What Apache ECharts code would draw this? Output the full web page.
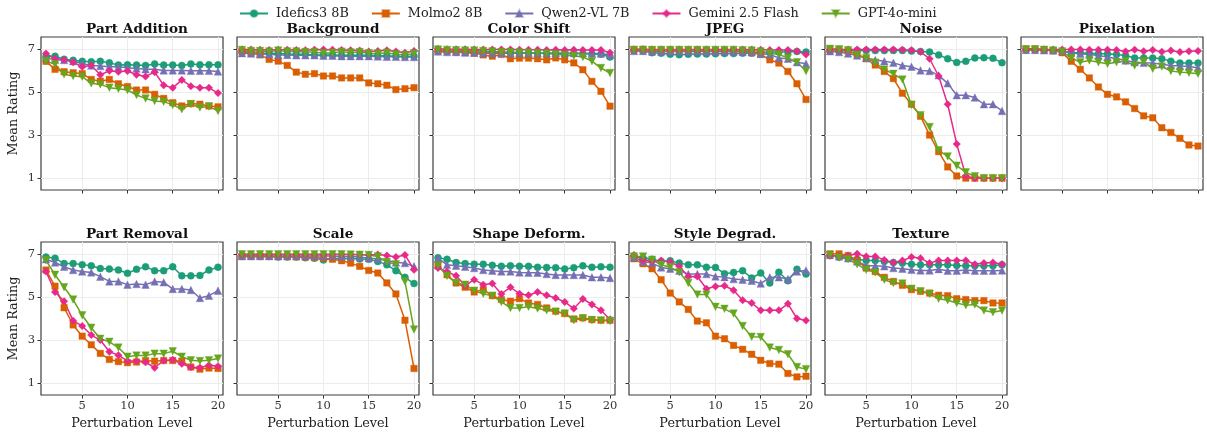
<!DOCTYPE html>
<html>
<head>
<meta charset="utf-8">
<script src="https://cdn.jsdelivr.net/npm/echarts@6/dist/echarts.min.js"></script>
<style>
  html, body { margin: 0; padding: 0; background: #fff; }
  #chart { width: 1207px; height: 436px; }
</style>
</head>
<body>
<div id="chart"></div>
<script>
const levels = [1, 2, 3, 4, 5, 6, 7, 8, 9, 10, 11, 12, 13, 14, 15, 16, 17, 18, 19, 20];
const models = ['Idefics3 8B', 'Molmo2 8B', 'Qwen2-VL 7B', 'Gemini 2.5 Flash', 'GPT-4o-mini'];
const yTicks = [1, 3, 5, 7];
const xTicks = [5, 10, 15, 20];

// each panel: [idefics, molmo, qwen, gemini, gpt]
const partAddition = [
  [6.65, 6.66, 6.52, 6.47, 6.42, 6.4, 6.42, 6.35, 6.25, 6.26, 6.25, 6.23, 6.3, 6.25, 6.25, 6.23, 6.3, 6.26, 6.26, 6.26],
  [6.42, 6.05, 5.94, 5.89, 5.85, 5.58, 5.5, 5.58, 5.38, 5.25, 5.09, 5.09, 4.89, 4.7, 4.5, 4.35, 4.46, 4.43, 4.35, 4.31],
  [6.58, 6.5, 6.48, 6.43, 6.32, 6.23, 6.2, 6.17, 6.17, 6.12, 6.09, 6.05, 6.05, 6.0, 6.0, 6.0, 5.98, 5.98, 5.98, 5.95],
  [6.78, 6.54, 6.5, 6.38, 6.17, 6.23, 5.8, 5.98, 5.94, 5.97, 5.8, 5.72, 5.92, 5.31, 5.19, 5.56, 5.27, 5.19, 5.19, 4.95],
  [6.43, 6.28, 5.82, 5.74, 5.71, 5.4, 5.35, 5.2, 5.15, 5.09, 4.86, 4.7, 4.58, 4.55, 4.4, 4.2, 4.43, 4.28, 4.32, 4.12]
];
const background = [
  [6.85, 6.82, 6.8, 6.8, 6.78, 6.76, 6.75, 6.75, 6.72, 6.72, 6.72, 6.7, 6.7, 6.7, 6.7, 6.68, 6.68, 6.66, 6.65, 6.66],
  [6.89, 6.82, 6.72, 6.51, 6.43, 6.23, 5.92, 5.82, 5.85, 5.74, 5.74, 5.65, 5.65, 5.65, 5.42, 5.38, 5.31, 5.11, 5.15, 5.2],
  [6.8, 6.78, 6.76, 6.75, 6.72, 6.72, 6.7, 6.7, 6.7, 6.68, 6.68, 6.66, 6.66, 6.66, 6.66, 6.65, 6.63, 6.63, 6.62, 6.62],
  [6.97, 6.97, 6.96, 6.95, 6.96, 6.96, 6.95, 6.94, 6.96, 6.97, 6.96, 6.95, 6.94, 6.92, 6.88, 6.9, 6.93, 6.88, 6.82, 6.9],
  [6.95, 6.9, 6.9, 6.88, 6.92, 6.88, 6.88, 6.85, 6.85, 6.8, 6.82, 6.87, 6.83, 6.85, 6.8, 6.78, 6.82, 6.75, 6.72, 6.78]
];
const colorShift = [
  [6.88, 6.88, 6.86, 6.86, 6.85, 6.85, 6.84, 6.83, 6.82, 6.82, 6.81, 6.8, 6.8, 6.8, 6.78, 6.78, 6.77, 6.76, 6.75, 6.62],
  [6.92, 6.9, 6.85, 6.82, 6.8, 6.72, 6.66, 6.74, 6.54, 6.57, 6.57, 6.54, 6.49, 6.58, 6.49, 6.35, 6.03, 5.49, 5.03, 4.34],
  [6.88, 6.85, 6.85, 6.83, 6.82, 6.8, 6.8, 6.8, 6.8, 6.8, 6.8, 6.8, 6.8, 6.8, 6.8, 6.8, 6.8, 6.78, 6.78, 6.72],
  [7.0, 6.98, 6.98, 6.98, 6.97, 6.97, 6.97, 6.97, 6.97, 6.96, 6.96, 6.96, 6.95, 6.96, 6.95, 6.96, 6.95, 6.95, 6.95, 6.82],
  [6.97, 6.95, 6.93, 6.92, 6.92, 6.9, 6.88, 6.85, 6.85, 6.83, 6.82, 6.8, 6.78, 6.75, 6.72, 6.68, 6.62, 6.43, 6.11, 5.88]
];
const jpeg = [
  [6.93, 6.9, 6.82, 6.8, 6.75, 6.73, 6.75, 6.76, 6.76, 6.77, 6.78, 6.78, 6.8, 6.8, 6.82, 6.85, 6.85, 6.87, 6.88, 6.85],
  [6.97, 6.98, 6.95, 6.95, 6.95, 6.95, 6.95, 6.95, 6.93, 6.93, 6.92, 6.9, 6.9, 6.82, 6.74, 6.49, 6.34, 5.95, 5.38, 4.65],
  [6.9, 6.9, 6.88, 6.88, 6.88, 6.88, 6.88, 6.88, 6.88, 6.88, 6.88, 6.88, 6.87, 6.85, 6.77, 6.74, 6.58, 6.54, 6.38, 6.31],
  [6.97, 6.98, 6.97, 6.97, 6.97, 6.97, 6.97, 6.97, 6.97, 6.97, 6.97, 6.97, 6.97, 6.97, 6.96, 6.95, 6.95, 6.95, 6.89, 6.74],
  [6.95, 6.95, 6.95, 6.95, 6.95, 6.95, 6.95, 6.95, 6.95, 6.95, 6.95, 6.95, 6.93, 6.92, 6.88, 6.8, 6.74, 6.58, 6.38, 5.97]
];
const noise = [
  [6.89, 6.89, 6.92, 6.92, 6.92, 6.92, 6.92, 6.92, 6.92, 6.9, 6.88, 6.85, 6.72, 6.54, 6.37, 6.42, 6.58, 6.59, 6.56, 6.36],
  [6.97, 6.97, 6.9, 6.75, 6.54, 6.25, 5.95, 5.62, 4.94, 4.43, 3.87, 3.0, 2.23, 1.52, 1.1, 1.0, 1.0, 1.0, 1.0, 1.0],
  [6.89, 6.85, 6.78, 6.69, 6.58, 6.48, 6.43, 6.35, 6.23, 6.17, 6.0, 5.97, 5.77, 5.4, 4.85, 4.85, 4.74, 4.43, 4.43, 4.12],
  [6.97, 6.97, 6.97, 6.97, 6.97, 6.97, 6.97, 6.97, 6.96, 6.94, 6.86, 6.54, 5.74, 4.43, 2.58, 1.1, 1.0, 1.0, 1.0, 1.0],
  [7.0, 6.98, 6.94, 6.72, 6.58, 6.36, 6.04, 5.84, 5.58, 4.4, 3.92, 3.37, 2.29, 2.01, 1.58, 1.27, 1.09, 1.0, 1.0, 1.0]
];
const pixelation = [
  [6.95, 6.95, 6.94, 6.92, 6.9, 6.82, 6.82, 6.8, 6.77, 6.77, 6.74, 6.69, 6.58, 6.58, 6.57, 6.54, 6.43, 6.34, 6.34, 6.34],
  [7.0, 7.0, 6.97, 6.92, 6.82, 6.42, 6.05, 5.65, 5.23, 4.89, 4.77, 4.54, 4.23, 3.89, 3.8, 3.34, 3.12, 2.85, 2.54, 2.49],
  [6.95, 6.95, 6.93, 6.92, 6.9, 6.82, 6.77, 6.74, 6.69, 6.62, 6.54, 6.46, 6.38, 6.35, 6.34, 6.28, 6.23, 6.2, 6.18, 6.12],
  [6.98, 6.98, 6.97, 6.97, 6.97, 6.97, 6.97, 6.96, 6.96, 6.96, 6.95, 6.88, 6.96, 6.89, 6.95, 6.86, 6.92, 6.85, 6.89, 6.9],
  [6.97, 6.97, 6.95, 6.92, 6.88, 6.57, 6.38, 6.46, 6.38, 6.31, 6.38, 6.42, 6.23, 6.42, 6.08, 6.18, 5.97, 5.92, 5.89, 5.85]
];
const partRemoval = [
  [6.85, 6.8, 6.55, 6.55, 6.5, 6.45, 6.32, 6.3, 6.25, 6.1, 6.28, 6.4, 6.22, 6.22, 6.4, 5.98, 5.98, 6.0, 6.25, 6.38],
  [6.25, 5.5, 4.5, 3.7, 3.18, 2.78, 2.38, 2.1, 2.0, 1.95, 1.98, 2.05, 2.02, 2.05, 2.05, 2.02, 1.75, 1.65, 1.7, 1.68],
  [6.75, 6.6, 6.4, 6.25, 6.18, 6.14, 5.94, 5.72, 5.72, 5.57, 5.6, 5.57, 5.72, 5.68, 5.37, 5.37, 5.32, 4.95, 5.06, 5.29],
  [6.18, 5.23, 4.8, 3.9, 3.65, 3.23, 3.0, 2.46, 2.3, 2.03, 2.03, 1.97, 1.72, 2.05, 2.08, 1.9, 1.74, 1.72, 1.83, 1.78],
  [6.7, 6.03, 5.45, 4.88, 4.15, 3.57, 3.06, 2.92, 2.65, 2.23, 2.28, 2.28, 2.37, 2.37, 2.48, 2.23, 2.06, 2.03, 2.06, 2.14]
];
const scale = [
  [6.88, 6.88, 6.88, 6.88, 6.85, 6.85, 6.85, 6.82, 6.8, 6.72, 6.78, 6.78, 6.78, 6.76, 6.75, 6.65, 6.49, 6.22, 5.91, 5.62],
  [6.88, 6.88, 6.88, 6.88, 6.87, 6.87, 6.86, 6.85, 6.83, 6.8, 6.75, 6.68, 6.57, 6.42, 6.23, 6.11, 5.65, 5.14, 3.92, 1.68],
  [6.9, 6.9, 6.9, 6.9, 6.9, 6.9, 6.9, 6.9, 6.9, 6.9, 6.9, 6.88, 6.88, 6.85, 6.8, 6.77, 6.7, 6.6, 6.57, 6.42],
  [6.97, 6.97, 6.97, 6.97, 6.97, 6.97, 6.97, 6.97, 6.97, 6.97, 6.97, 6.97, 6.97, 6.97, 6.95, 6.97, 6.92, 6.85, 6.95, 6.26],
  [6.98, 6.98, 6.98, 6.98, 6.98, 6.98, 6.98, 6.98, 6.98, 6.98, 6.98, 6.98, 6.97, 6.96, 6.95, 6.88, 6.62, 6.52, 5.72, 3.49]
];
const shapeDeform = [
  [6.82, 6.75, 6.6, 6.55, 6.52, 6.52, 6.47, 6.43, 6.45, 6.43, 6.42, 6.38, 6.37, 6.36, 6.3, 6.36, 6.45, 6.38, 6.4, 6.38],
  [6.45, 6.03, 5.65, 5.45, 5.23, 5.34, 5.06, 4.88, 4.8, 4.92, 4.72, 4.65, 4.49, 4.34, 4.23, 3.98, 4.03, 3.95, 3.92, 3.92],
  [6.8, 6.49, 6.45, 6.4, 6.34, 6.25, 6.22, 6.18, 6.18, 6.14, 6.12, 6.12, 6.06, 6.02, 6.02, 6.02, 6.02, 5.91, 5.91, 5.88],
  [6.34, 6.18, 5.98, 5.52, 5.8, 5.57, 5.62, 5.14, 5.45, 5.15, 5.08, 5.23, 5.08, 4.95, 4.77, 4.46, 4.91, 4.65, 4.38, 3.95],
  [6.46, 5.98, 5.65, 5.57, 5.29, 5.15, 5.06, 4.77, 4.49, 4.49, 4.55, 4.46, 4.38, 4.31, 4.23, 3.92, 4.0, 3.92, 3.91, 3.88]
];
const styleDegrad = [
  [6.88, 6.8, 6.75, 6.65, 6.68, 6.57, 6.49, 6.49, 6.38, 6.37, 6.08, 6.14, 6.22, 5.88, 6.11, 5.65, 6.15, 5.75, 6.29, 6.06],
  [6.77, 6.54, 6.31, 5.8, 5.18, 4.77, 4.42, 3.88, 3.8, 3.18, 3.06, 2.75, 2.57, 2.34, 2.06, 1.91, 1.88, 1.45, 1.29, 1.32],
  [6.83, 6.65, 6.57, 6.37, 6.31, 6.22, 6.06, 6.06, 6.06, 5.95, 5.92, 5.83, 5.8, 5.75, 5.62, 5.91, 5.91, 5.83, 6.18, 6.23],
  [6.95, 6.72, 6.65, 6.69, 6.62, 6.42, 5.95, 5.95, 5.38, 5.49, 5.52, 5.31, 4.85, 4.72, 4.38, 4.38, 4.38, 4.68, 4.0, 3.91],
  [6.88, 6.88, 6.72, 6.49, 6.38, 6.15, 5.65, 5.11, 5.11, 4.54, 4.45, 4.23, 3.65, 3.15, 3.14, 2.65, 2.54, 2.34, 1.75, 1.65]
];
const texture = [
  [6.92, 6.85, 6.83, 6.75, 6.69, 6.69, 6.65, 6.6, 6.57, 6.52, 6.49, 6.49, 6.49, 6.49, 6.46, 6.45, 6.45, 6.45, 6.45, 6.49],
  [7.0, 7.0, 6.92, 6.69, 6.34, 6.18, 5.91, 5.72, 5.54, 5.34, 5.26, 5.18, 5.08, 5.06, 4.92, 4.88, 4.83, 4.83, 4.72, 4.72],
  [6.95, 6.88, 6.8, 6.65, 6.45, 6.45, 6.42, 6.34, 6.31, 6.26, 6.23, 6.23, 6.29, 6.22, 6.22, 6.25, 6.22, 6.22, 6.22, 6.23],
  [6.92, 6.9, 6.92, 7.0, 6.88, 6.88, 6.72, 6.6, 6.69, 6.85, 6.8, 6.57, 6.69, 6.69, 6.69, 6.69, 6.52, 6.57, 6.6, 6.52],
  [6.95, 6.83, 6.75, 6.52, 6.26, 6.14, 5.8, 5.65, 5.62, 5.38, 5.26, 5.14, 4.92, 4.85, 4.72, 4.62, 4.65, 4.37, 4.29, 4.37]
];

const panelNames = ['Part Addition', 'Background', 'Color Shift', 'JPEG', 'Noise', 'Pixelation',
  'Part Removal', 'Scale', 'Shape Deform.', 'Style Degrad.', 'Texture'];
const panelData = [partAddition, background, colorShift, jpeg, noise, pixelation,
  partRemoval, scale, shapeDeform, styleDegrad, texture];

const colors = ['#1b9e77', '#d95f02', '#7570b3', '#e7298a', '#66a61e'];
const symbols = ['circle', 'rect', 'triangle', 'diamond', 'triangle'];
const symbolRotates = [0, 0, 0, 0, 180];
const symbolSizes = [7, 6.5, 7.5, 7.5, 7.5];

const FONT = '"DejaVu Serif", serif';
const W = 182, H = 153, STEP = 196;

const grids = [], xAxes = [], yAxes = [], titles = [], series = [];
panelNames.forEach((name, i) => {
  const row = i < 6 ? 0 : 1;
  const col = i < 6 ? i : i - 6;
  const left = 41 + col * STEP;
  const top = row === 0 ? 37 : 242;
  grids.push({
    left: left, top: top, width: W, height: H,
    show: true, borderColor: '#3c3c3c', borderWidth: 1.2, backgroundColor: 'transparent'
  });
  titles.push({
    text: name,
    left: left + W / 2, top: top - 19.5, textAlign: 'center',
    textStyle: { fontFamily: FONT, fontWeight: 'bold', fontSize: 13.6, color: '#111' }
  });
  xAxes.push({
    gridIndex: i, type: 'value', min: 0.45, max: 20.55,
    name: row === 1 ? 'Perturbation Level' : '',
    nameLocation: 'middle', nameGap: 22,
    nameTextStyle: { fontFamily: FONT, fontSize: 12.8, color: '#222' },
    axisLine: { show: false },
    axisTick: { show: true, length: 3.5, lineStyle: { color: '#333' }, customValues: xTicks },
    axisLabel: { show: row === 1, customValues: xTicks, fontFamily: FONT, fontSize: 11.5, color: '#333', margin: 5 },
    splitLine: { show: true, lineStyle: { color: '#ececec', width: 1 } }
  });
  yAxes.push({
    gridIndex: i, type: 'value', min: 0.45, max: 7.55,
    name: col === 0 ? 'Mean Rating' : '',
    nameLocation: 'middle', nameGap: 21,
    nameTextStyle: { fontFamily: FONT, fontSize: 12.8, color: '#222' },
    axisLine: { show: false },
    axisTick: { show: true, length: 3.5, lineStyle: { color: '#333' }, customValues: yTicks },
    axisLabel: { show: col === 0, customValues: yTicks, fontFamily: FONT, fontSize: 11.5, color: '#333', margin: 6 },
    splitLine: { show: true, lineStyle: { color: '#ececec', width: 1 } }
  });
  panelData[i].forEach((vals, m) => {
    series.push({
      name: models[m], type: 'line',
      xAxisIndex: i, yAxisIndex: i,
      data: levels.map((lv, k) => [lv, vals[k]]),
      symbol: symbols[m], symbolRotate: symbolRotates[m], symbolSize: symbolSizes[m],
      showAllSymbol: true,
      lineStyle: { color: colors[m], width: 1.5 },
      itemStyle: { color: colors[m], borderColor: colors[m] + '66', borderWidth: 1 },
      emphasis: { disabled: true },
      animation: false
    });
  });
});

const chart = echarts.init(document.getElementById('chart'));
chart.setOption({
  animation: false,
  title: titles,
  legend: {
    data: models.map((m) => ({ name: m })),
    top: 2, left: 234,
    itemWidth: 28, itemHeight: 9, itemGap: 22,
    textStyle: { fontFamily: FONT, fontSize: 12.8, color: '#222', padding: [0, 0, 0, 3] }
  },
  grid: grids,
  xAxis: xAxes,
  yAxis: yAxes,
  series: series
});
</script>
</body>
</html>
